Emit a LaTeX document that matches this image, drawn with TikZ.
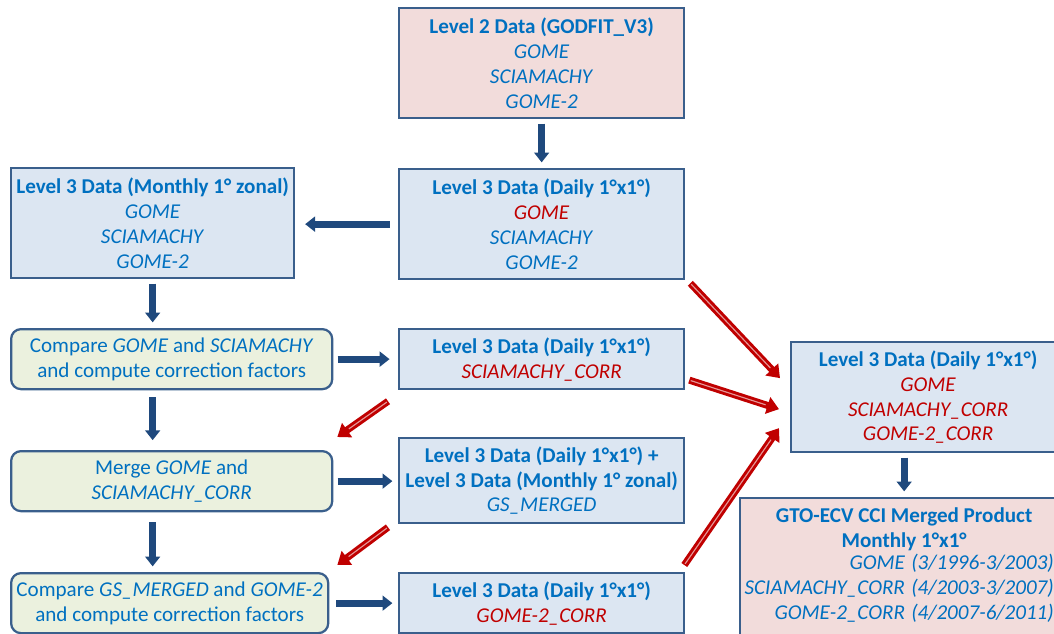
\documentclass[tikz,border=0pt]{standalone}
\usepackage{fontspec}
\setmainfont{Carlito}
\usetikzlibrary{arrows.meta, calc}

\definecolor{txtblue}{HTML}{0070C0}
\definecolor{txtred}{HTML}{C00000}
\definecolor{boxblue}{HTML}{DCE6F2}
\definecolor{boxpink}{HTML}{F2DCDB}
\definecolor{boxgreen}{HTML}{EBF1DE}
\definecolor{boxline}{HTML}{3A5F8C}
\definecolor{arrowblue}{HTML}{1F497D}
\definecolor{arrowred}{HTML}{C00000}
\definecolor{arrowpale}{HTML}{E59A9A}

\tikzset{
  databox/.style={draw=boxline, line width=1.6pt, align=center, text=txtblue,
    font=\fontsize{15}{17.7}\selectfont, inner sep=2pt, anchor=north west},
  bluebox/.style={databox, fill=boxblue},
  pinkbox/.style={databox, fill=boxpink},
  stepbox/.style={databox, fill=boxgreen, rounded corners=7pt},
  flow/.style={draw=arrowblue, line width=5pt, shorten <=3pt, shorten >=4pt,
    -{Triangle[width=10.5pt, length=7pt]}},
  feed/.style={draw=arrowred, line width=5pt, -{Triangle[width=12pt, length=8.5pt]},
    postaction={draw=arrowpale, line width=0.8pt, -, shorten >=10pt, shorten <=1pt}}
}
\newcommand{\hl}[1]{\textcolor{txtred}{#1}}

\begin{document}
\begin{tikzpicture}[x=0.025cm, y=-0.025cm]
  \useasboundingbox (0,0) rectangle (1054,633);
  \clip (0,0) rectangle (1054,633);

  % middle column
  \node[pinkbox, minimum width=7.125cm, minimum height=2.75cm] (lvltwo) at (398,7)
    {\textbf{Level 2 Data (GODFIT\_V3)}\\\textit{GOME}\\\textit{SCIAMACHY}\\\textit{GOME-2}};
  \node[bluebox, minimum width=7.125cm, minimum height=2.75cm] (dayall) at (398,168)
    {\textbf{Level 3 Data (Daily 1°x1°)}\\\hl{\textit{GOME}}\\\textit{SCIAMACHY}\\\textit{GOME-2}};
  \node[bluebox, minimum width=7.125cm, minimum height=1.5cm] (dayscia) at (398,328)
    {\textbf{Level 3 Data (Daily 1°x1°)}\\\hl{\textit{SCIAMACHY\_CORR}}};
  \node[bluebox, minimum width=7.125cm, minimum height=2.125cm] (daymerged) at (398,437)
    {\textbf{Level 3 Data (Daily 1°x1°) +}\\\textbf{Level 3 Data (Monthly 1° zonal)}\\\textit{GS\_MERGED}};
  \node[bluebox, minimum width=7.125cm, minimum height=1.5cm] (daygome) at (398,572)
    {\textbf{Level 3 Data (Daily 1°x1°)}\\\hl{\textit{GOME-2\_CORR}}};

  % left column
  \node[bluebox, minimum width=7.075cm, minimum height=2.75cm] (monzonal) at (10,167)
    {\textbf{Level 3 Data (Monthly 1° zonal)}\\\textit{GOME}\\\textit{SCIAMACHY}\\\textit{GOME-2}};
  \node[stepbox, minimum width=8.025cm, minimum height=1.5cm] (cmpone) at (10,328)
    {Compare \textit{GOME} and \textit{SCIAMACHY}\\and compute correction factors};
  \node[stepbox, minimum width=8.025cm, minimum height=1.5cm] (mergebox) at (10,450)
    {Merge \textit{GOME} and\\\textit{SCIAMACHY\_CORR}};
  \node[stepbox, minimum width=7.925cm, minimum height=1.5cm] (cmptwo) at (10,572)
    {Compare \textit{GS\_MERGED} and \textit{GOME-2}\\and compute correction factors};

  % right column
  \node[bluebox, minimum width=6.85cm, minimum height=2.75cm] (daycorr) at (790,341)
    {\textbf{Level 3 Data (Daily 1°x1°)}\\\hl{\textit{GOME}}\\\hl{\textit{SCIAMACHY\_CORR}}\\\hl{\textit{GOME-2\_CORR}}};
  \node[pinkbox, minimum width=8.2cm, minimum height=3.45cm] (gtoprod) at (739,497)
    {\textbf{GTO-ECV CCI Merged Product}\\\textbf{Monthly 1°x1°}\\
     \itshape\begin{tabular}{@{}r@{\hspace{4.5pt}}l@{\hspace{7pt}}}
       GOME & (3/1996-3/2003)\\
       SCIAMACHY\_CORR & (4/2003-3/2007)\\
       GOME-2\_CORR & (4/2007-6/2011)
     \end{tabular}};

  % blue flow arrows
  \draw[flow] (lvltwo) -- (dayall);
  \draw[flow, shorten <=6pt, shorten >=7pt] (dayall.west) -- (dayall.west -| monzonal.east);
  \draw[flow] (monzonal.south) -- (monzonal.south |- cmpone.north);
  \draw[flow, shorten >=6pt] (cmpone.east) -- (cmpone.east -| dayscia.west);
  \draw[flow, shorten <=5pt, shorten >=7pt] (monzonal.south |- cmpone.south) -- (monzonal.south |- mergebox.north);
  \draw[flow] (mergebox.east) -- (mergebox.east -| daymerged.west);
  \draw[flow, shorten <=7pt] (monzonal.south |- mergebox.south) -- (monzonal.south |- cmptwo.north);
  \draw[flow, shorten <=5pt] (cmptwo.east) -- (cmptwo.east -| daygome.west);
  \draw[flow] (gtoprod.north |- daycorr.south) -- (gtoprod.north);

  % red feed arrows
  \draw[feed] ($(dayall.south east)+(5,3)$) -- ($(daycorr.west)+(-10,-19)$);
  \draw[feed] ($(dayscia.east)+(4,21)$) -- ($(daycorr.west)+(-11,12)$);
  \draw[feed] ($(daygome.north east)+(-1,-7)$) -- ($(daycorr.west)+(-11,31)$);
  \draw[feed] ($(dayscia.south west)+(-10,11)$) -- ($(mergebox.north east)+(4,-13)$);
  \draw[feed] ($(daymerged.south west)+(-10,3)$) -- ($(cmptwo.north east)+(8,-7)$);
\end{tikzpicture}
\end{document}
